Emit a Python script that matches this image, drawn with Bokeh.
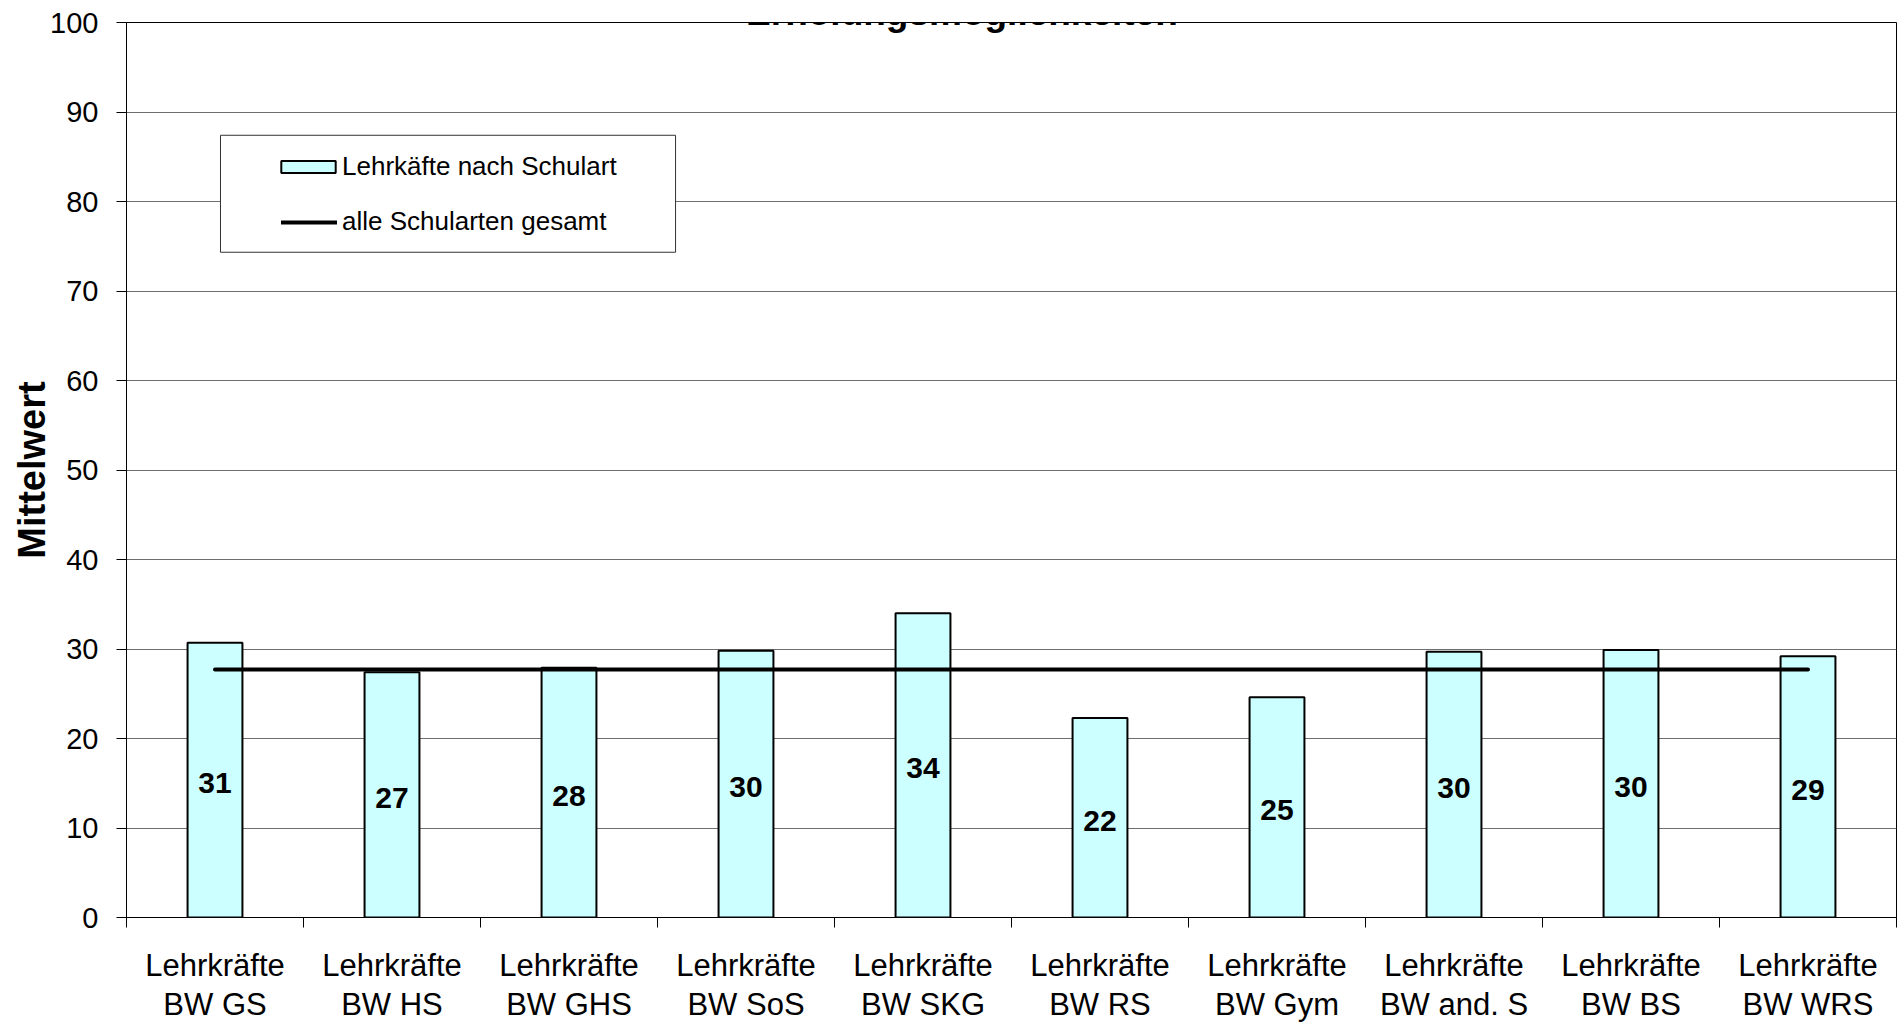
from bokeh.plotting import figure
from bokeh.models import (Range1d, FixedTicker, Legend, LegendItem, BoxAnnotation,
                          Label, ColumnDataSource)
from bokeh.embed import file_html
from bokeh.resources import INLINE
from bokeh.core.properties import value

# ---------------- data ----------------
categories = ["Lehrkräfte\nBW GS", "Lehrkräfte\nBW HS", "Lehrkräfte\nBW GHS",
              "Lehrkräfte\nBW SoS", "Lehrkräfte\nBW SKG", "Lehrkräfte\nBW RS",
              "Lehrkräfte\nBW Gym", "Lehrkräfte\nBW and. S", "Lehrkräfte\nBW BS",
              "Lehrkräfte\nBW WRS"]
schulart_values = [30.7, 27.4, 27.9, 29.8, 34.0, 22.3, 24.6, 29.7, 29.9, 29.2]
gesamt_values = [27.7, 27.7, 27.7, 27.7, 27.7, 27.7, 27.7, 27.7, 27.7, 27.7]
y_ticks = [0, 10, 20, 30, 40, 50, 60, 70, 80, 90, 100]
title_text = "Erholungsmöglichkeiten"
y_label = "Mittelwert"
legend_labels = ["Lehrkäfte nach Schulart", "alle Schularten gesamt"]

FONT = "Liberation Sans"

n = len(categories)
centers = [i + 0.5 for i in range(n)]
bounds = [float(i) for i in range(n + 1)]

src = ColumnDataSource(dict(
    x=centers,
    top=schulart_values,
    mid=[v / 2 for v in schulart_values],
    lab=[f"{v:.0f}" for v in schulart_values],
    ges=gesamt_values,
))

p = figure(width=1898, height=1024, output_backend="svg", toolbar_location=None,
           x_range=Range1d(0, n), y_range=Range1d(0, 100),
           min_border_left=126, min_border_right=2, min_border_top=22,
           min_border_bottom=105, background_fill_color="white",
           border_fill_color="white", outline_line_color="black",
           outline_line_width=1)

# grid
p.xgrid.visible = False
p.ygrid.grid_line_color = "#6e6e6e"
p.ygrid.grid_line_width = 1

# y axis
p.yaxis.ticker = FixedTicker(ticks=y_ticks)
p.yaxis.minor_tick_line_color = None
p.yaxis.major_tick_in = 0
p.yaxis.major_tick_out = 10
p.yaxis.major_label_standoff = 18
p.yaxis.major_label_text_font = FONT
p.yaxis.major_label_text_font_size = "29px"
p.yaxis.major_label_text_color = "black"
p.yaxis.axis_line_color = "black"
p.yaxis.major_tick_line_color = "black"
p.yaxis.axis_label = y_label
p.yaxis.axis_label_text_font = FONT
p.yaxis.axis_label_text_font_style = "bold"
p.yaxis.axis_label_text_font_size = "38px"
p.yaxis.axis_label_text_color = "black"
p.yaxis.axis_label_standoff = -6

# x axis
p.xaxis.ticker = FixedTicker(ticks=centers, minor_ticks=bounds)
p.xaxis.major_label_overrides = {c: lab for c, lab in zip(centers, categories)}
p.xaxis.major_tick_in = 0
p.xaxis.major_tick_out = 0
p.xaxis.minor_tick_in = 0
p.xaxis.minor_tick_out = 10
p.xaxis.minor_tick_line_color = "black"
p.xaxis.axis_line_color = "black"
p.xaxis.major_label_standoff = 20
p.xaxis.major_label_text_font = FONT
p.xaxis.major_label_text_font_size = "31px"
p.xaxis.major_label_text_line_height = 1.12
p.xaxis.major_label_text_color = "black"

# bars
bars = p.vbar(x="x", top="top", width=0.31, bottom=0, source=src,
              fill_color="#CCFFFF", line_color="black", line_width=2)

# overall line
ln = p.line(x="x", y="ges", source=src, line_color="black", line_width=4,
            line_cap="round")

# value labels
p.text(x="x", y="mid", text="lab", source=src, text_align="center",
       text_baseline="middle", text_font=value(FONT), text_font_style="bold",
       text_font_size="30px", text_color="black", y_offset=3)

# title (partly cut off at the top, as in the original)
p.add_layout(Label(x=4.72, y=101.1, text=title_text, text_align="center",
                   text_baseline="alphabetic", text_font=FONT,
                   text_font_style="bold", text_font_size="37px",
                   text_color="black"))

# legend frame
p.add_layout(BoxAnnotation(left=0.531, right=3.102, top=87.4, bottom=74.33,
                           fill_color="white", fill_alpha=1.0,
                           line_color="#333333", line_alpha=1.0, line_width=1,
                           level="annotation"))

common = dict(orientation="vertical", padding=0, margin=0,
              label_text_font=FONT, label_text_font_size="26px",
              label_text_color="black", label_height=12,
              background_fill_alpha=0, border_line_alpha=0)

legend_bar = Legend(items=[LegendItem(label=legend_labels[0], renderers=[bars])],
                    location=(148, 735), glyph_width=68, glyph_height=15,
                    label_standoff=0, **common)
legend_line = Legend(items=[LegendItem(label=legend_labels[1], renderers=[ln])],
                     location=(155, 680), glyph_width=56, glyph_height=12,
                     label_standoff=5, **common)
p.add_layout(legend_bar)
p.add_layout(legend_line)

open("out.html", "w").write(file_html(p, INLINE))
